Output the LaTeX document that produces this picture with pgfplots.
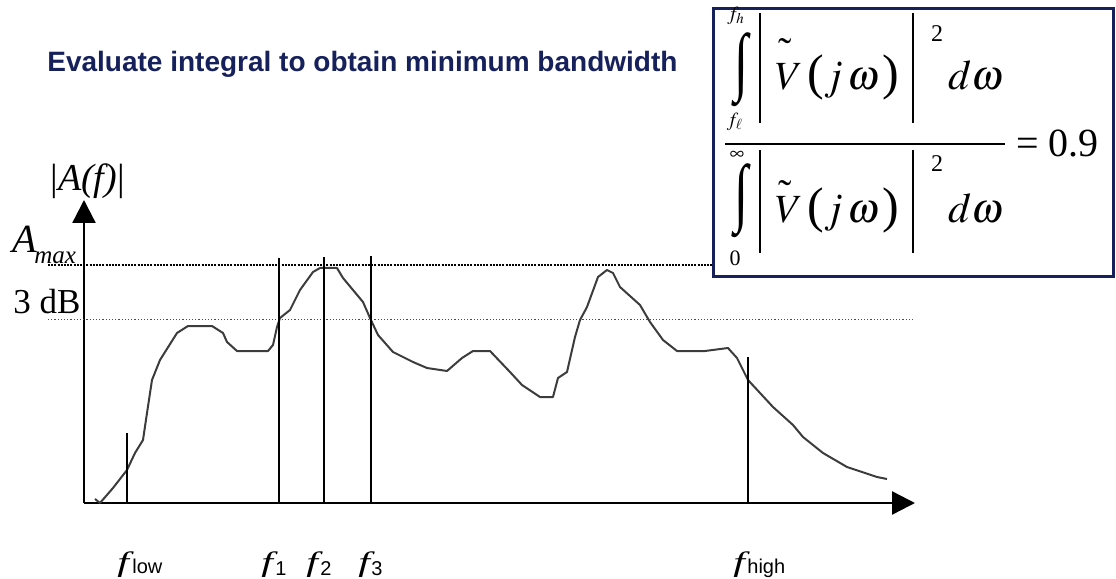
\documentclass[border=0pt]{standalone}
\usepackage{mathptmx}
\usepackage{fontspec}
\setmainfont{Liberation Serif}
\setsansfont{Liberation Sans}
\usepackage{graphicx}
\usepackage{pgfplots}
\pgfplotsset{compat=1.18}
\usetikzlibrary{arrows.meta}
\definecolor{navy}{RGB}{22,33,92}
\definecolor{curvegray}{RGB}{60,60,60}
\newcommand{\fs}[1]{\fontsize{#1}{#1}\selectfont}
\newcommand{\bigint}[1]{\resizebox*{7pt}{#1}{\char"222B}}
\newcommand{\ff}{\scalebox{1.5}[1]{\fs{14pt}\textit{f}}}

\begin{document}
\begin{tikzpicture}
\begin{axis}[
  x=0.5pt, y=0.5pt,
  xmin=84, xmax=915, ymin=76, ymax=379,
  axis lines=left,
  axis line style={line width=1.2pt, -{Triangle[length=11.5pt,width=11.5pt]}},
  xtick=\empty, ytick=\empty,
  clip=false,
]
% response curve |A(f)|
\addplot[curvegray, line width=1pt, line join=round] coordinates {
(95,80) (100,76) (113,91) (127,109) (135,126) (143,139) (147,166) (152,199)
(160,219) (177,246) (188,253) (212,253) (223,246) (227,237) (237,228) (268,228)
(273,234) (277,252) (280,261) (290,269) (300,289) (313,307) (320,311) (337,311)
(343,301) (363,277) (370,261) (378,244) (393,227) (413,217) (427,211) (447,208)
(462,221) (473,228) (490,228) (510,207) (522,194) (540,182) (553,182) (558,201)
(567,207) (575,242) (580,259) (587,272) (598,302) (607,309) (613,306) (620,292)
(640,274) (650,257) (663,239) (677,228) (705,228) (728,231) (737,221) (748,199)
(773,172) (793,154) (803,142) (823,126) (847,112) (877,102) (887,100)
};
% reference levels
\addplot[black, line width=1pt, dash pattern=on 1pt off 0.6pt] coordinates {(48,314) (712,314)};
\addplot[black!70, line width=0.5pt, dash pattern=on 0.6pt off 1pt] coordinates {(48,260) (915,260)};
% frequency markers
\addplot[black, line width=1pt] coordinates {(127,76) (127,146)};
\addplot[black, line width=1pt] coordinates {(279,76) (279,321)};
\addplot[black, line width=1pt] coordinates {(324,76) (324,322)};
\addplot[black, line width=1pt] coordinates {(371,76) (371,323)};
\addplot[black, line width=1pt] coordinates {(748,76) (748,222)};

% title
\node[anchor=base west, inner sep=0] at (axis cs:47,507)
  {\sffamily\bfseries\fs{14pt}\color{navy}Evaluate integral to obtain minimum bandwidth};

% axis labels
\node[anchor=base west, inner sep=0] at (axis cs:50,388) {\fs{19pt}|\textit{A(f)}|};
\node[anchor=base west, inner sep=0] at (axis cs:12,326) {\fs{20pt}\textit{A}};
\node[anchor=base west, inner sep=0] at (axis cs:34,316) {\fs{12.5pt}\textit{max}};
\node[anchor=base west, inner sep=0] at (axis cs:13,266) {\fs{17.5pt}3 dB};

% frequency labels
\node[anchor=base west, inner sep=0] at (axis cs:117,8) {\ff};
\node[anchor=base west, inner sep=0] at (axis cs:132,6) {\sffamily\fs{10pt}low};
\node[anchor=base west, inner sep=0] at (axis cs:261,8) {\ff};
\node[anchor=base west, inner sep=0] at (axis cs:275,4) {\sffamily\fs{10pt}1};
\node[anchor=base west, inner sep=0] at (axis cs:306,8) {\ff};
\node[anchor=base west, inner sep=0] at (axis cs:320,4) {\sffamily\fs{10pt}2};
\node[anchor=base west, inner sep=0] at (axis cs:358,8) {\ff};
\node[anchor=base west, inner sep=0] at (axis cs:371,4) {\sffamily\fs{10pt}3};
\node[anchor=base west, inner sep=0] at (axis cs:733,8) {\ff};
\node[anchor=base west, inner sep=0] at (axis cs:747,6) {\sffamily\fs{10pt}high};

% formula box
\draw[navy, line width=1.5pt, fill=white] (axis cs:713,302) rectangle (axis cs:1113,570);
% numerator
\node[inner sep=0] at (axis cs:741,509) {\bigint{37pt}};
\node[inner sep=0] at (axis cs:736,563) {\fs{10pt}$f_h$};
\node[inner sep=0] at (axis cs:735,457) {\fs{10pt}$f_\ell$};
\draw[black, line width=1pt] (axis cs:760,566) -- (axis cs:760,456);
\draw[black, line width=1pt] (axis cs:913,566) -- (axis cs:913,456);
\node[anchor=north, inner sep=0] at (axis cs:785,541) {\fs{20pt}\char"02DC};
\node[anchor=base, inner sep=0] at (axis cs:789,489) {\fs{20pt}$V$};
\node[anchor=base, inner sep=0] at (axis cs:816,489) {\fs{25pt}(};
\node[anchor=base, inner sep=0] at (axis cs:852,489) {\fs{21pt}$j\,\omega$};
\node[anchor=base, inner sep=0] at (axis cs:891,489) {\fs{25pt})};
\node[anchor=base, inner sep=0] at (axis cs:937,537) {\fs{12pt}2};
\node[anchor=base, inner sep=0] at (axis cs:976,489) {\fs{21pt}$d\omega$};
% fraction bar
\draw[black, line width=1pt] (axis cs:725,435) -- (axis cs:1005,435);
% denominator
\node[inner sep=0] at (axis cs:741,378) {\bigint{37pt}};
\node[inner sep=0] at (axis cs:737,424) {\fs{10pt}$\infty$};
\node[inner sep=0] at (axis cs:735,321) {\fs{11pt}0};
\draw[black, line width=1pt] (axis cs:760,429) -- (axis cs:760,326);
\draw[black, line width=1pt] (axis cs:913,429) -- (axis cs:913,326);
\node[anchor=north, inner sep=0] at (axis cs:785,399) {\fs{20pt}\char"02DC};
\node[anchor=base, inner sep=0] at (axis cs:789,356) {\fs{20pt}$V$};
\node[anchor=base, inner sep=0] at (axis cs:816,356) {\fs{25pt}(};
\node[anchor=base, inner sep=0] at (axis cs:852,356) {\fs{21pt}$j\,\omega$};
\node[anchor=base, inner sep=0] at (axis cs:891,356) {\fs{25pt})};
\node[anchor=base, inner sep=0] at (axis cs:937,407) {\fs{12pt}2};
\node[anchor=base, inner sep=0] at (axis cs:976,356) {\fs{21pt}$d\omega$};
% = 0.9
\node[anchor=base west, inner sep=0] at (axis cs:1016,422) {\fs{20pt}= 0.9};

\coordinate (BL) at (axis cs:0,0);
\coordinate (TR) at (axis cs:1116,579);
\end{axis}
\pgfresetboundingbox
\path[use as bounding box] (BL) rectangle (TR);
\end{tikzpicture}
\end{document}
